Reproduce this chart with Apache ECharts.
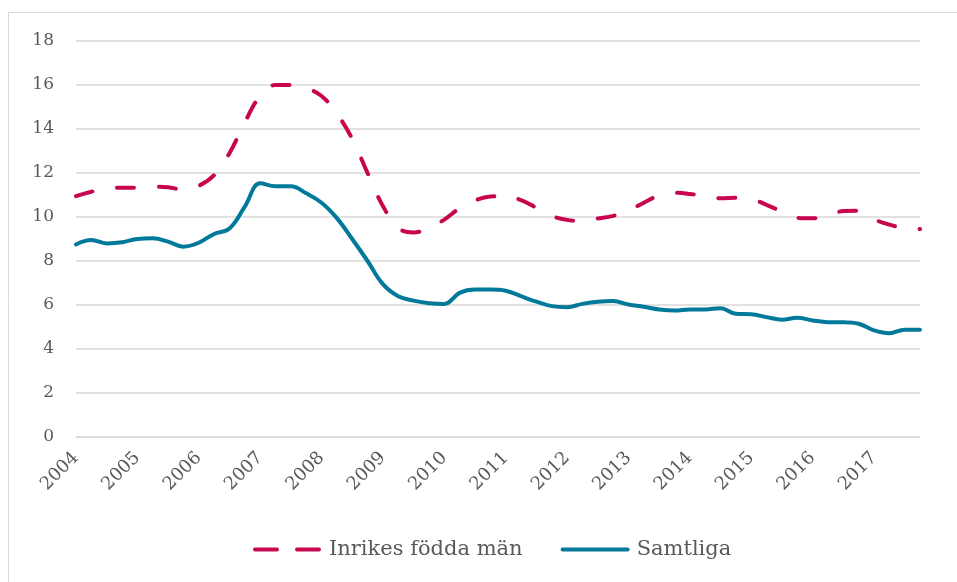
<!DOCTYPE html>
<html>
<head>
<meta charset="utf-8">
<script src="https://cdn.jsdelivr.net/npm/echarts@6/dist/echarts.min.js"></script>
<style>
  html, body { margin: 0; padding: 0; background: #fff; }
  #chart { width: 957px; height: 582px; }
</style>
</head>
<body>
<div id="chart"></div>
<script>
  // kvartal 2004-2017
  var years = ['2004','2005','2006','2007','2008','2009','2010','2011','2012','2013','2014','2015','2016','2017'];
  var quarters = [];
  years.forEach(function (y) {
    for (var q = 1; q <= 4; q++) quarters.push(y + 'K' + q);
  });

  var inrikesMan = [
    10.95, 11.15, 11.3, 11.33, 11.33, 11.38, 11.35, 11.25,
    11.42, 11.9, 12.9, 14.3, 15.5, 16.0, 16.0, 15.85,
    15.5, 14.7, 13.55, 12.0, 10.5, 9.5, 9.3, 9.5,
    9.88, 10.4, 10.75, 10.93, 10.95, 10.77, 10.42, 10.05,
    9.87, 9.82, 9.93, 10.05, 10.3, 10.65, 10.98, 11.1,
    11.05, 10.95, 10.85, 10.88, 10.82, 10.55, 10.25, 9.96,
    9.94, 10.05, 10.27, 10.28, 9.9, 9.65, 9.5, 9.45
  ];
  var samtliga = [
    8.75, 8.95, 8.8, 8.85, 9.0, 9.03, 8.88, 8.65,
    8.83, 9.23, 9.48, 10.47, 11.53, 11.4, 11.4, 11.08,
    10.65, 9.95, 9.0, 8.0, 6.95, 6.4, 6.2, 6.08,
    6.05, 6.55, 6.7, 6.7, 6.65, 6.4, 6.15, 5.95,
    5.9, 6.05, 6.15, 6.18, 6.02, 5.92, 5.8, 5.75,
    5.8, 5.8, 5.85, 5.6, 5.58, 5.45, 5.33, 5.42,
    5.3, 5.22, 5.22, 5.15, 4.85, 4.72, 4.88, 4.88
  ];

  var textColor = '#595959';
  var fontFam = '"DejaVu Serif", serif';

  var myChart = echarts.init(document.getElementById('chart'));
  var option = {
    backgroundColor: '#fff',
    animation: false,
    graphic: [
      { type: 'line', shape: { x1: 8.5, y1: 12.5, x2: 957, y2: 12.5 }, style: { stroke: '#d9d9d9', lineWidth: 1 } },
      { type: 'line', shape: { x1: 8.5, y1: 12.5, x2: 8.5, y2: 582 }, style: { stroke: '#d9d9d9', lineWidth: 1 } }
    ],
    grid: { left: 76, right: 37, top: 41, bottom: 145 },
    legend: {
      bottom: 17,
      left: 248,
      itemWidth: 65,
      itemHeight: 4,
      itemGap: 38,
      itemStyle: { opacity: 0 },
      textStyle: { color: textColor, fontFamily: fontFam, fontSize: 21, padding: [0, 0, 0, 4] },
      data: [
        { name: 'Inrikes födda män', lineStyle: { type: [22, 20], width: 4, cap: 'round' } },
        { name: 'Samtliga', lineStyle: { width: 4, cap: 'round' } }
      ]
    },
    xAxis: {
      type: 'category',
      data: quarters,
      boundaryGap: false,
      axisLine: { show: true, lineStyle: { color: '#d9d9d9', width: 1.5 } },
      axisTick: { show: false },
      axisLabel: {
        interval: 3,
        rotate: 45,
        margin: 18,
        color: textColor,
        fontFamily: fontFam,
        fontSize: 18,
        formatter: function (v) { return v.slice(0, 4); }
      }
    },
    yAxis: {
      type: 'value',
      min: 0,
      max: 18,
      interval: 2,
      axisLine: { show: false },
      axisTick: { show: false },
      axisLabel: { color: textColor, fontFamily: fontFam, fontSize: 17, margin: 22 },
      splitLine: { lineStyle: { color: '#d9d9d9', width: 1.5 } }
    },
    series: [
      {
        name: 'Inrikes födda män',
        type: 'line',
        data: inrikesMan,
        smooth: 0.4,
        showSymbol: false,
        symbol: 'none',
        color: '#C8064F',
        lineStyle: { width: 4, type: [17, 25], cap: 'round', color: '#C8064F' }
      },
      {
        name: 'Samtliga',
        type: 'line',
        data: samtliga,
        smooth: 0.4,
        showSymbol: false,
        symbol: 'none',
        color: '#00799B',
        lineStyle: { width: 4, cap: 'round', color: '#00799B' }
      }
    ]
  };
  myChart.setOption(option);
</script>
</body>
</html>
